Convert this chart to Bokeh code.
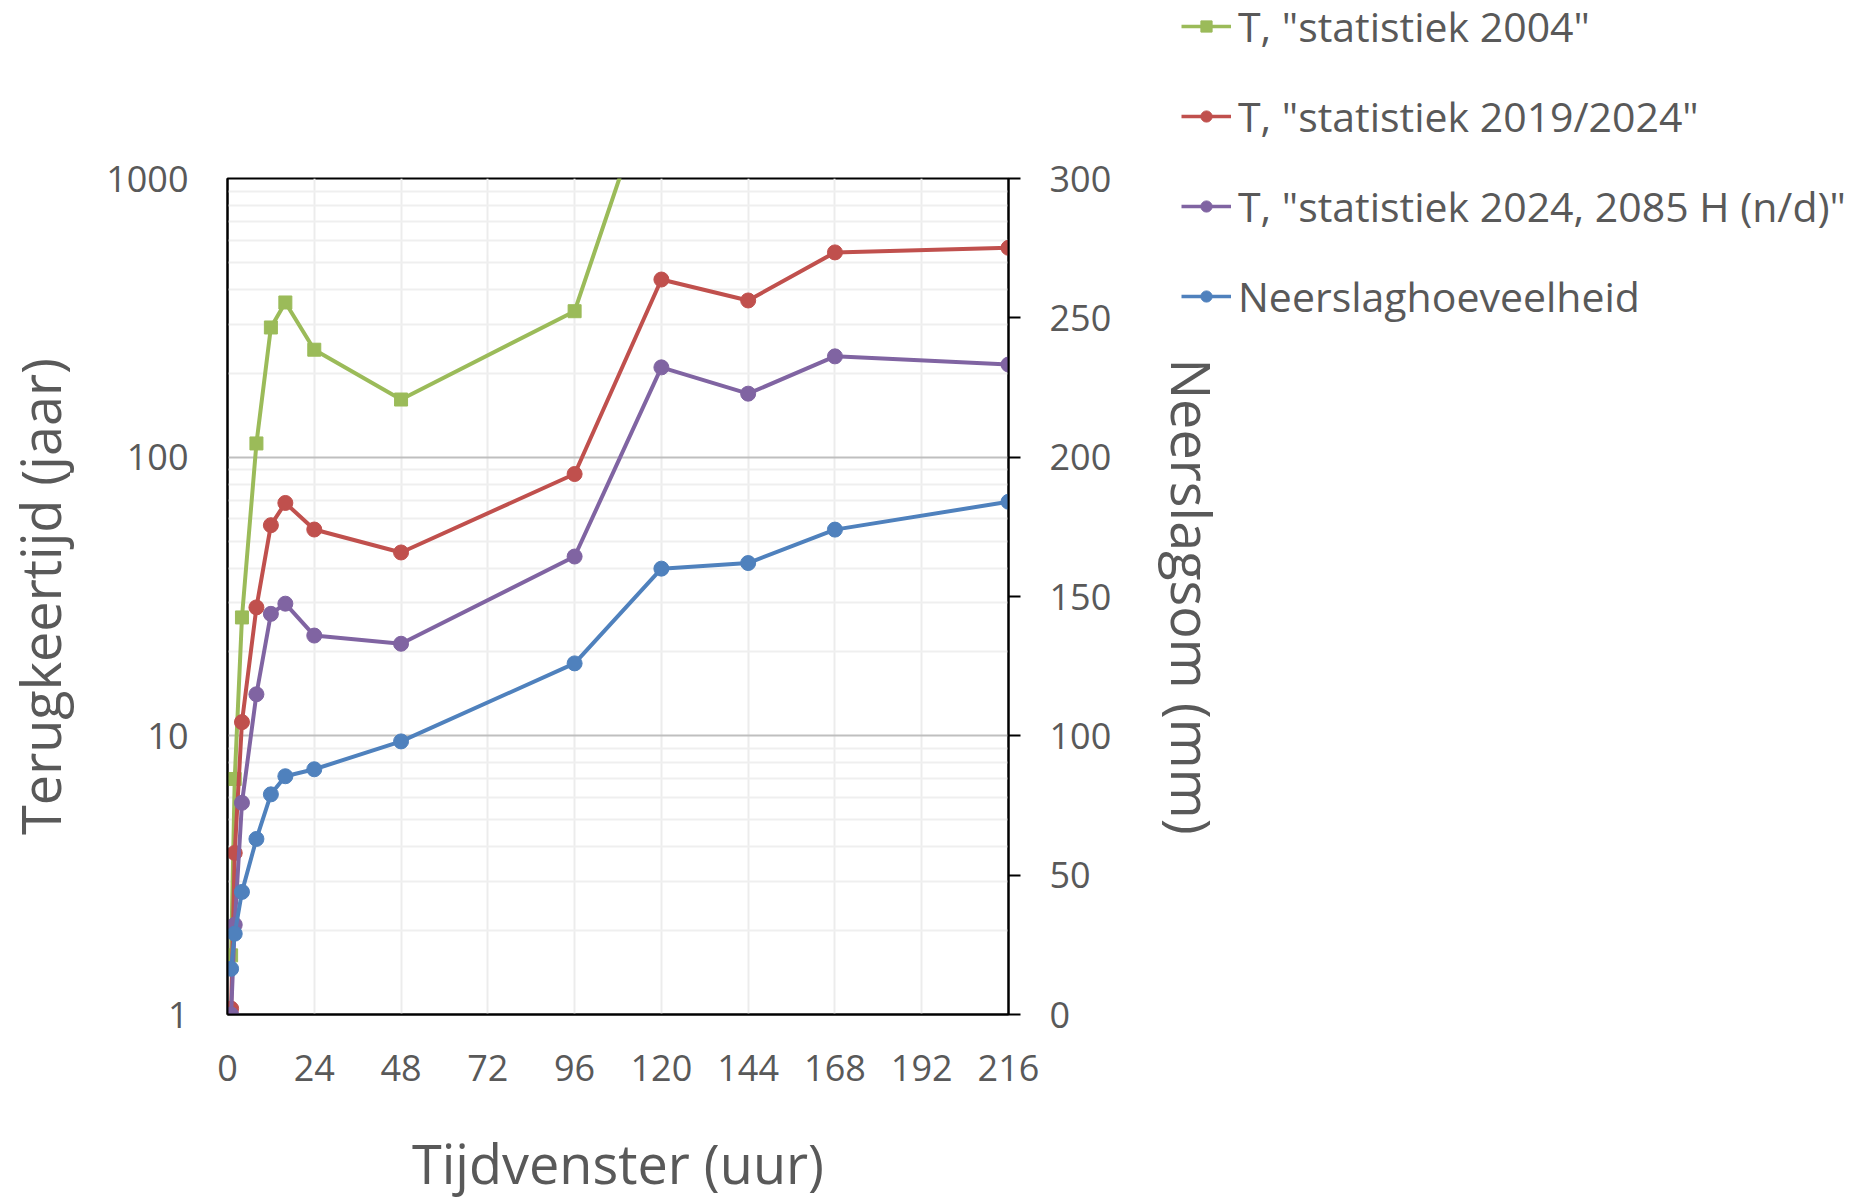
import numpy as np
from bokeh.plotting import figure
from bokeh.models import (Range1d, LinearScale, LinearAxis, FixedTicker, Legend, LegendItem,
                          PrintfTickFormatter)
from bokeh.embed import file_html
from bokeh.resources import INLINE

# ---- data ----
hours = [1, 2, 4, 8, 12, 16, 24, 48, 96, 120, 144, 168, 216]
t_2004 = [1.63, 7.0, 26.6, 112, 292, 359, 243, 161, 334, 2800, np.nan, np.nan, np.nan]
t_2019_2024 = [1.05, 3.8, 11.2, 28.9, 57, 68.5, 55, 45.5, 87, 434, 365, 543, 564]
t_2024_2085 = [1.0, 2.1, 5.75, 14.1, 27.4, 29.8, 22.9, 21.4, 44, 210, 169, 230, 215]
neerslag_mm = [16.4, 29, 44, 63, 79, 85.5, 88, 98, 126, 160, 162, 174, 184]

x_ticks = [0, 24, 48, 72, 96, 120, 144, 168, 192, 216]
y_ticks = [1, 10, 100, 1000]
y_minor = [2, 3, 4, 5, 6, 7, 8, 9, 20, 30, 40, 50, 60, 70, 80, 90,
           200, 300, 400, 500, 600, 700, 800, 900]
mm_ticks = [0, 50, 100, 150, 200, 250, 300]

labels = ['T, "statistiek 2004"', 'T, "statistiek 2019/2024"',
          'T, "statistiek 2024, 2085 H (n/d)"', 'Neerslaghoeveelheid']
colors = ["#9BBB59", "#C0504D", "#8064A2", "#4F81BD"]
markers = ["square", "circle", "circle", "circle"]

FONT = "Open Sans"
TXT = "#595959"

# ---------------- main chart ----------------
p = figure(width=1875, height=1203, x_range=Range1d(0, 216), y_range=Range1d(1, 1000),
           y_axis_type="log", output_backend="svg", toolbar_location=None,
           min_border_left=227, min_border_right=867, min_border_top=178, min_border_bottom=189,
           extra_y_ranges={"mm": Range1d(0, 300)}, extra_y_scales={"mm": LinearScale()})
p.outline_line_color = "black"
p.outline_line_width = 2
p.background_fill_color = "white"
p.border_fill_color = "white"

xt = FixedTicker(ticks=x_ticks)
xax = p.below[0]
xax.ticker = xt
xax.axis_label = "Tijdvenster (uur)"
p.xgrid.ticker = xt
p.xgrid.grid_line_color = "#ECECEC"
p.xgrid.grid_line_width = 2

yt = FixedTicker(ticks=y_ticks, minor_ticks=y_minor)
yax = p.left[0]
yax.ticker = yt
yax.formatter = PrintfTickFormatter(format="%d")
yax.axis_label = "Terugkeertijd (jaar)"
p.ygrid.ticker = yt
p.ygrid.grid_line_color = "#BFBFBF"
p.ygrid.grid_line_width = 2
p.ygrid.minor_grid_line_color = "#EFEFEF"
p.ygrid.minor_grid_line_width = 2

rax = LinearAxis(y_range_name="mm", ticker=FixedTicker(ticks=mm_ticks),
                 axis_label="Neerslagsom (mm)")
p.add_layout(rax, "right")

for ax in (xax, yax, rax):
    ax.axis_line_color = "black"
    ax.axis_line_width = 2
    ax.major_label_text_font = FONT
    ax.major_label_text_font_size = "36px"
    ax.major_label_text_color = TXT
    ax.axis_label_text_font = FONT
    ax.axis_label_text_font_size = "54px"
    ax.axis_label_text_color = TXT
    ax.axis_label_text_font_style = "normal"
    ax.minor_tick_line_color = None
    ax.major_tick_in = 0

xax.major_tick_line_color = None
xax.major_tick_out = 0
xax.major_label_standoff = 40
xax.axis_label_standoff = 42
yax.major_tick_line_color = None
yax.major_tick_out = 0
yax.major_label_standoff = 35
yax.axis_label_standoff = 26
rax.major_tick_line_color = "black"
rax.major_tick_line_width = 2
rax.major_tick_out = 12
rax.major_label_standoff = 29
rax.axis_label_standoff = 41

series = [t_2004, t_2019_2024, t_2024_2085]
for vals, col, mk in zip(series, colors[:3], markers[:3]):
    y = np.array(vals, dtype=float)
    p.line(hours, y, line_color=col, line_width=4)
    p.scatter(hours, y, marker=mk, size=15 if mk == "circle" else 13,
              fill_color=col, line_color=col)

p.line(hours, neerslag_mm, line_color=colors[3], line_width=4, y_range_name="mm")
p.scatter(hours, neerslag_mm, marker="circle", size=15, fill_color=colors[3],
          line_color=colors[3], y_range_name="mm")

# ---------------- legend (own transparent panel, placed over the page) ----------------
# its ranges lie outside the data, so only the legend entries show
q = figure(width=690, height=335, output_backend="svg", toolbar_location=None,
           x_axis_location=None, y_axis_location=None, title=None,
           x_range=Range1d(1000, 1001), y_range=Range1d(1000, 1001),
           min_border_left=0, min_border_right=0, min_border_top=0, min_border_bottom=0)
q.outline_line_color = None
q.background_fill_alpha = 0
q.border_fill_alpha = 0
q.grid.visible = False
q.styles = {"position": "absolute", "left": "1181px", "top": "-2px"}

items = []
all_series = [t_2004, t_2019_2024, t_2024_2085, neerslag_mm]
for vals, lab, col, mk in zip(all_series, labels, colors, markers):
    y = np.array(vals, dtype=float)
    ln = q.line(hours, y, line_color=col, line_width=3.5)
    sc = q.scatter(hours, y, marker=mk, fill_color=col, line_color=col)
    items.append(LegendItem(label=lab, renderers=[ln, sc]))

legend = Legend(items=items, location="top_left")
legend.label_text_font = FONT
legend.label_text_font_size = "41px"
legend.label_text_color = TXT
legend.glyph_width = 50
legend.glyph_height = 28
legend.label_height = 56
legend.spacing = 34
legend.label_standoff = 7
legend.padding = 0
legend.margin = 0
legend.border_line_color = None
legend.background_fill_alpha = 0
q.add_layout(legend, "center")

open("out.html", "w").write(file_html([p, q], INLINE))
